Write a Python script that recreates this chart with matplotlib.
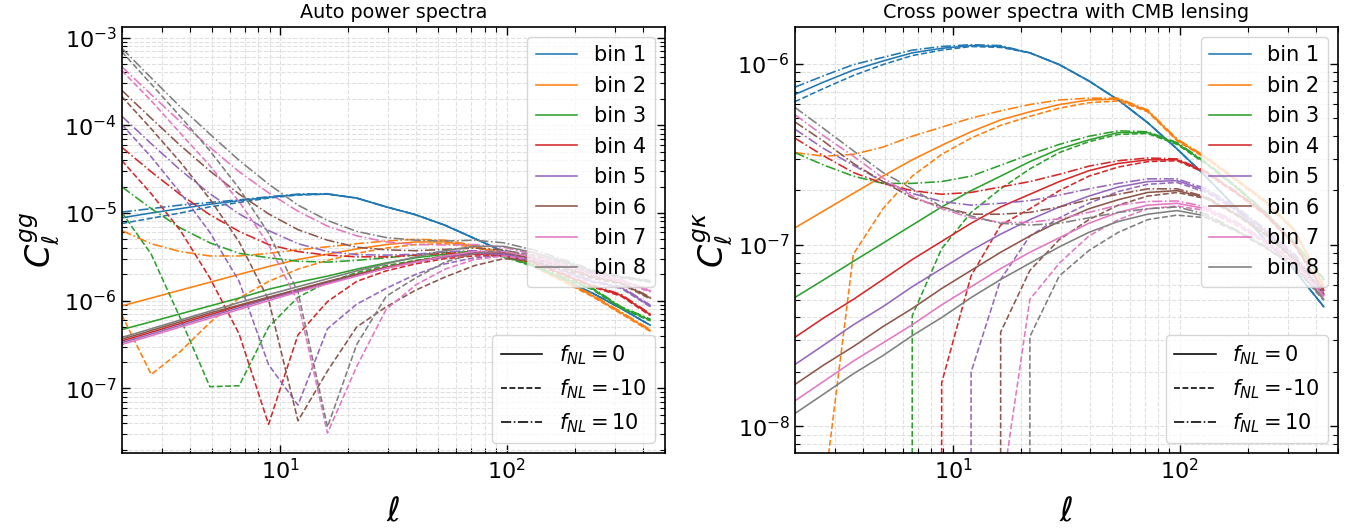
import numpy as np
import matplotlib
matplotlib.use('Agg')
import matplotlib.pyplot as plt
from matplotlib.lines import Line2D

# multipoles (log-spaced grid)
ell = [2.0, 2.7, 3.63, 4.9, 6.6, 8.9, 12.0, 16.2, 21.8, 29.4, 39.7, 53.5,
       72.1, 97.2, 131.0, 177.0, 238.0, 321.0, 431.0]

NEG = -np.inf  # C_ell <= 0 there (log10 undefined), drops off the log axis

# log10 C_ell^gg, one row per redshift bin
auto_fnl0 = [
    [-5.055, -5.00, -4.95, -4.90, -4.86, -4.82, -4.79, -4.785, -4.83, -4.93, -5.02, -5.14, -5.29, -5.44, -5.60, -5.76, -5.91, -6.09, -6.28],
    [-6.06, -5.97, -5.88, -5.79, -5.70, -5.61, -5.53, -5.47, -5.41, -5.36, -5.33, -5.33, -5.38, -5.47, -5.60, -5.77, -5.94, -6.14, -6.34],
    [-6.33, -6.24, -6.15, -6.06, -5.97, -5.87, -5.79, -5.72, -5.64, -5.57, -5.51, -5.47, -5.45, -5.49, -5.60, -5.74, -5.86, -6.08, -6.22],
    [-6.46, -6.36, -6.26, -6.16, -6.06, -5.97, -5.88, -5.79, -5.70, -5.62, -5.55, -5.50, -5.47, -5.48, -5.56, -5.70, -5.83, -5.94, -6.16],
    [-6.48, -6.38, -6.28, -6.18, -6.08, -5.98, -5.89, -5.80, -5.71, -5.63, -5.56, -5.50, -5.46, -5.47, -5.54, -5.66, -5.78, -5.85, -6.06],
    [-6.44, -6.34, -6.24, -6.14, -6.05, -5.96, -5.87, -5.78, -5.70, -5.62, -5.55, -5.49, -5.45, -5.45, -5.52, -5.62, -5.73, -5.80, -5.97],
    [-6.50, -6.40, -6.30, -6.20, -6.10, -6.00, -5.90, -5.81, -5.72, -5.63, -5.56, -5.49, -5.44, -5.44, -5.50, -5.59, -5.69, -5.77, -5.89],
    [-6.42, -6.32, -6.22, -6.12, -6.02, -5.93, -5.84, -5.75, -5.66, -5.58, -5.50, -5.43, -5.38, -5.38, -5.45, -5.55, -5.66, -5.73, -5.78],
]
auto_fnlm10 = [
    [-5.12, -5.06, -5.00, -4.93, -4.88, -4.83, -4.795, -4.785, -4.83, -4.93, -5.02, -5.14, -5.29, -5.44, -5.60, -5.76, -5.91, -6.09, -6.28],
    [-6.16, -6.84, -6.58, -6.25, -5.97, -5.78, -5.64, -5.54, -5.46, -5.40, -5.36, -5.35, -5.39, -5.48, -5.61, -5.78, -5.95, -6.15, -6.35],
    [-4.99, -5.47, -6.20, -6.98, -6.97, -6.30, -5.96, -5.79, -5.68, -5.60, -5.54, -5.49, -5.46, -5.50, -5.61, -5.75, -5.87, -6.09, -6.23],
    [-4.40, -4.78, -5.20, -5.74, -6.38, -7.41, -6.39, -6.01, -5.78, -5.66, -5.58, -5.52, -5.49, -5.49, -5.57, -5.71, -5.84, -5.95, -6.17],
    [-3.99, -4.36, -4.77, -5.22, -5.78, -6.73, -7.19, -6.32, -6.04, -5.86, -5.70, -5.58, -5.51, -5.49, -5.55, -5.67, -5.79, -5.86, -6.07],
    [-3.67, -4.04, -4.42, -4.84, -5.33, -5.99, -7.37, -6.80, -6.30, -6.07, -5.88, -5.73, -5.60, -5.52, -5.55, -5.64, -5.745, -5.81, -5.98],
    [-3.375, -3.72, -4.09, -4.46, -4.87, -5.36, -6.01, -7.51, -6.75, -6.10, -5.82, -5.64, -5.53, -5.49, -5.53, -5.61, -5.705, -5.78, -5.90],
    [-3.16, -3.53, -3.90, -4.29, -4.72, -5.23, -5.90, -7.44, -6.50, -5.95, -5.74, -5.56, -5.46, -5.425, -5.48, -5.57, -5.675, -5.74, -5.79],
]
auto_fnl10 = [
    [-4.99, -4.95, -4.91, -4.88, -4.85, -4.815, -4.785, -4.78, -4.83, -4.93, -5.02, -5.14, -5.29, -5.44, -5.60, -5.76, -5.91, -6.09, -6.28],
    [-5.20, -5.35, -5.44, -5.49, -5.49, -5.46, -5.42, -5.385, -5.35, -5.32, -5.30, -5.31, -5.37, -5.46, -5.59, -5.76, -5.93, -6.13, -6.33],
    [-4.70, -4.95, -5.17, -5.34, -5.46, -5.51, -5.55, -5.56, -5.54, -5.51, -5.48, -5.45, -5.44, -5.48, -5.59, -5.73, -5.85, -6.07, -6.21],
    [-4.25, -4.53, -4.79, -5.02, -5.21, -5.36, -5.44, -5.48, -5.50, -5.50, -5.48, -5.46, -5.45, -5.47, -5.55, -5.69, -5.82, -5.93, -6.15],
    [-3.895, -4.21, -4.51, -4.78, -5.01, -5.20, -5.35, -5.44, -5.475, -5.48, -5.47, -5.44, -5.43, -5.45, -5.53, -5.65, -5.77, -5.84, -6.05],
    [-3.60, -3.92, -4.23, -4.52, -4.785, -5.01, -5.19, -5.31, -5.39, -5.42, -5.43, -5.415, -5.40, -5.42, -5.50, -5.605, -5.715, -5.79, -5.96],
    [-3.33, -3.65, -3.96, -4.25, -4.53, -4.77, -4.98, -5.15, -5.26, -5.33, -5.36, -5.365, -5.36, -5.39, -5.47, -5.57, -5.675, -5.76, -5.88],
    [-3.12, -3.46, -3.79, -4.10, -4.40, -4.67, -4.91, -5.085, -5.21, -5.28, -5.31, -5.32, -5.31, -5.34, -5.42, -5.53, -5.645, -5.72, -5.77],
]

# log10 C_ell^{g kappa}, one row per redshift bin
cross_fnl0 = [
    [-6.17, -6.10, -6.035, -5.985, -5.94, -5.915, -5.90, -5.905, -5.94, -6.005, -6.095, -6.20, -6.325, -6.47, -6.625, -6.795, -6.97, -7.14, -7.34],
    [-6.906, -6.81, -6.715, -6.62, -6.53, -6.45, -6.375, -6.31, -6.265, -6.225, -6.20, -6.195, -6.26, -6.42, -6.52, -6.64, -6.76, -6.92, -7.23],
    [-7.29, -7.19, -7.09, -6.99, -6.89, -6.79, -6.70, -6.62, -6.54, -6.47, -6.42, -6.38, -6.38, -6.44, -6.55, -6.68, -6.82, -6.99, -7.19],
    [-7.51, -7.40, -7.30, -7.19, -7.08, -6.98, -6.88, -6.79, -6.72, -6.65, -6.59, -6.55, -6.53, -6.53, -6.60, -6.71, -6.83, -7.00, -7.25],
    [-7.66, -7.55, -7.44, -7.34, -7.23, -7.13, -7.03, -6.94, -6.86, -6.79, -6.73, -6.68, -6.65, -6.645, -6.70, -6.80, -6.92, -7.06, -7.27],
    [-7.77, -7.66, -7.56, -7.45, -7.35, -7.24, -7.14, -7.04, -6.95, -6.87, -6.80, -6.75, -6.71, -6.70, -6.74, -6.83, -6.94, -7.08, -7.27],
    [-7.86, -7.75, -7.64, -7.54, -7.44, -7.33, -7.23, -7.13, -7.04, -6.96, -6.88, -6.82, -6.78, -6.77, -6.80, -6.88, -6.98, -7.10, -7.28],
    [-7.93, -7.82, -7.71, -7.61, -7.50, -7.40, -7.29, -7.19, -7.10, -7.01, -6.93, -6.87, -6.83, -6.81, -6.84, -6.92, -7.01, -7.12, -7.30],
]
cross_fnlm10 = [
    [-6.21, -6.135, -6.065, -6.005, -5.955, -5.925, -5.905, -5.91, -5.94, -6.005, -6.095, -6.20, -6.325, -6.47, -6.625, -6.795, -6.97, -7.14, -7.34],
    [NEG, -8.35, -7.05, -6.80, -6.62, -6.50, -6.41, -6.34, -6.29, -6.245, -6.215, -6.205, -6.265, -6.425, -6.525, -6.645, -6.765, -6.925, -7.235],
    [NEG, NEG, NEG, NEG, -7.39, -7.02, -6.82, -6.69, -6.58, -6.49, -6.43, -6.39, -6.385, -6.445, -6.555, -6.685, -6.825, -6.995, -7.195],
    [NEG, NEG, NEG, NEG, NEG, -7.76, -7.17, -6.89, -6.80, -6.70, -6.62, -6.57, -6.54, -6.535, -6.605, -6.715, -6.835, -7.005, -7.255],
    [NEG, NEG, NEG, NEG, NEG, NEG, -7.70, -7.19, -6.95, -6.85, -6.77, -6.705, -6.665, -6.655, -6.71, -6.81, -6.93, -7.07, -7.28],
    [NEG, NEG, NEG, NEG, NEG, NEG, NEG, -7.48, -7.14, -6.97, -6.86, -6.78, -6.73, -6.71, -6.745, -6.835, -6.945, -7.085, -7.275],
    [NEG, NEG, NEG, NEG, NEG, NEG, NEG, -8.40, -7.30, -7.10, -6.95, -6.86, -6.80, -6.785, -6.81, -6.89, -6.99, -7.11, -7.29],
    [NEG, NEG, NEG, NEG, NEG, NEG, NEG, NEG, -7.505, -7.17, -7.03, -6.93, -6.86, -6.835, -6.85, -6.925, -7.015, -7.125, -7.305],
]
cross_fnl10 = [
    [-6.13, -6.065, -6.005, -5.965, -5.925, -5.905, -5.895, -5.90, -5.94, -6.005, -6.095, -6.20, -6.325, -6.47, -6.625, -6.795, -6.97, -7.14, -7.34],
    [-6.49, -6.51, -6.50, -6.46, -6.40, -6.35, -6.30, -6.26, -6.225, -6.20, -6.19, -6.19, -6.255, -6.415, -6.515, -6.635, -6.755, -6.915, -7.225],
    [-6.49, -6.56, -6.62, -6.66, -6.66, -6.65, -6.62, -6.56, -6.50, -6.445, -6.40, -6.37, -6.375, -6.435, -6.545, -6.675, -6.815, -6.985, -7.185],
    [-6.41, -6.51, -6.60, -6.66, -6.70, -6.72, -6.71, -6.68, -6.65, -6.61, -6.565, -6.535, -6.52, -6.525, -6.595, -6.705, -6.825, -6.995, -7.245],
    [-6.36, -6.47, -6.56, -6.65, -6.715, -6.76, -6.78, -6.77, -6.755, -6.725, -6.69, -6.66, -6.635, -6.635, -6.69, -6.79, -6.91, -7.05, -7.26],
    [-6.32, -6.43, -6.55, -6.65, -6.74, -6.79, -6.83, -6.83, -6.82, -6.79, -6.75, -6.72, -6.69, -6.69, -6.735, -6.825, -6.935, -7.075, -7.265],
    [-6.28, -6.40, -6.51, -6.63, -6.73, -6.80, -6.85, -6.875, -6.875, -6.855, -6.82, -6.78, -6.76, -6.757, -6.79, -6.87, -6.97, -7.09, -7.27],
    [-6.24, -6.36, -6.48, -6.60, -6.69, -6.79, -6.84, -6.88, -6.89, -6.88, -6.85, -6.82, -6.80, -6.79, -6.83, -6.915, -7.005, -7.115, -7.295],
]

bin_labels = ['bin %d' % (i + 1) for i in range(8)]
fnl_labels = [r'$f_{NL}=$0', r'$f_{NL}=$-10', r'$f_{NL}=$10']
linestyles = ['-', '--', '-.']
colors = ['C%d' % i for i in range(8)]

fig = plt.figure(figsize=(13.46, 5.29), dpi=100)
ax1 = fig.add_axes([0.0904, 0.1431, 0.4036, 0.8064])
ax2 = fig.add_axes([0.5904, 0.1431, 0.4039, 0.8064])

panels = [
    (ax1, [auto_fnl0, auto_fnlm10, auto_fnl10], 'Auto power spectra', r'$C_\ell^{gg}$', (1.82e-8, 1.33e-3)),
    (ax2, [cross_fnl0, cross_fnlm10, cross_fnl10], 'Cross power spectra with CMB lensing', r'$C_\ell^{g\kappa}$', (7.1e-9, 1.6e-6)),
]

for ax, sets, title, ylab, ylim in panels:
    for i in range(8):
        for data, ls in zip(sets, linestyles):
            ax.plot(ell, np.power(10.0, np.array(data[i])), color=colors[i], ls=ls, lw=1.15)
    ax.set_xscale('log')
    ax.set_yscale('log')
    ax.set_xlim(2, 500)
    ax.set_ylim(*ylim)
    ax.set_title(title, fontsize=13.8)
    ax.set_xlabel(r'$\ell$', fontsize=24, labelpad=9)
    ax.set_ylabel(ylab, fontsize=24, labelpad=2)
    ax.grid(True, which='both', ls='--', lw=0.8, color='0.88')
    ax.tick_params(which='both', direction='in', top=True, right=True, labelsize=16)
    ax.tick_params(which='major', length=6, width=1)
    ax.tick_params(which='minor', length=3.5, width=0.8)
    for sp in ax.spines.values():
        sp.set_linewidth(1.2)

    bin_handles = [Line2D([], [], color=colors[i], lw=1.15) for i in range(8)]
    leg1 = ax.legend(bin_handles, bin_labels, loc='upper right', fontsize=15)
    ax.add_artist(leg1)
    fnl_handles = [Line2D([], [], color='k', ls=ls, lw=1.15) for ls in linestyles]
    ax.legend(fnl_handles, fnl_labels, loc='lower right', fontsize=15)

fig.savefig('out.png', dpi=100)
